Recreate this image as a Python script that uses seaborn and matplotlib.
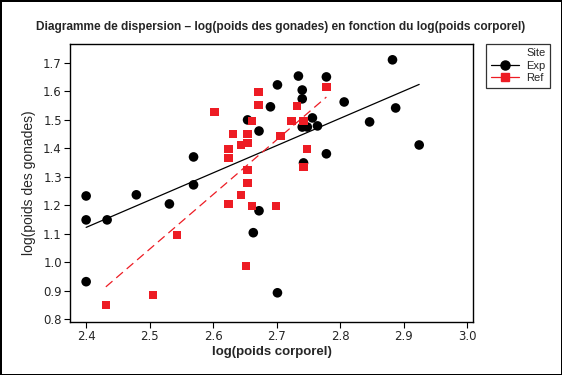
import matplotlib
matplotlib.use("Agg")
import matplotlib.pyplot as plt
from matplotlib.lines import Line2D
import pandas as pd
import seaborn as sns

# Site "Exp"
exp_x = [2.400, 2.400, 2.400, 2.433, 2.479, 2.531, 2.569, 2.569, 2.654, 2.672,
         2.663, 2.672, 2.701, 2.701, 2.690, 2.734, 2.740, 2.740, 2.756, 2.740,
         2.748, 2.764, 2.778, 2.778, 2.742, 2.806, 2.846, 2.882, 2.887, 2.924]
exp_y = [1.233, 1.149, 0.932, 1.149, 1.237, 1.205, 1.370, 1.272, 1.500, 1.461,
         1.104, 1.181, 0.893, 1.623, 1.546, 1.654, 1.605, 1.574, 1.507, 1.475,
         1.475, 1.479, 1.381, 1.651, 1.349, 1.563, 1.493, 1.711, 1.542, 1.412]

# Site "Ref"
ref_x = [2.431, 2.505, 2.543, 2.602, 2.624, 2.624, 2.631, 2.624, 2.644, 2.654,
         2.654, 2.654, 2.654, 2.644, 2.652, 2.661, 2.661, 2.671, 2.671, 2.699,
         2.706, 2.723, 2.732, 2.742, 2.742, 2.748, 2.778]
ref_y = [0.851, 0.886, 1.096, 1.528, 1.398, 1.367, 1.451, 1.205, 1.412, 1.419,
         1.451, 1.325, 1.279, 1.237, 0.988, 1.198, 1.496, 1.598, 1.553, 1.198,
         1.444, 1.496, 1.549, 1.496, 1.335, 1.398, 1.616]

x_ticks = [2.4, 2.5, 2.6, 2.7, 2.8, 2.9, 3.0]
y_ticks = [0.8, 0.9, 1.0, 1.1, 1.2, 1.3, 1.4, 1.5, 1.6, 1.7]

df = pd.DataFrame({
    "x": exp_x + ref_x,
    "y": exp_y + ref_y,
    "Site": ["Exp"] * len(exp_x) + ["Ref"] * len(ref_x),
})

sns.set_theme(style="white")
plt.rcParams["font.family"] = ["Liberation Sans", "DejaVu Sans"]

red = "#ED1C24"
fig = plt.figure(figsize=(5.62, 3.75), dpi=100)
ax = fig.add_axes([0.125, 0.141, 0.717, 0.742])

# regression lines per site
sns.regplot(data=df[df.Site == "Exp"], x="x", y="y", scatter=False, ci=None,
            ax=ax, line_kws=dict(color="black", lw=0.9))
sns.regplot(data=df[df.Site == "Ref"], x="x", y="y", scatter=False, ci=None,
            ax=ax, line_kws=dict(color=red, lw=0.9, ls=(0, (7, 4))))

sns.scatterplot(data=df[df.Site == "Exp"], x="x", y="y", color="black",
                marker="o", s=48, edgecolor="none", ax=ax, legend=False)
sns.scatterplot(data=df[df.Site == "Ref"], x="x", y="y", color=red,
                marker="s", s=36, edgecolor="none", ax=ax, legend=False)

ax.set_xlim(2.375, 3.009)
ax.set_ylim(0.79, 1.767)
ax.set_xticks(x_ticks)
ax.set_yticks(y_ticks)
ax.set_xticklabels([f"{v:.1f}" for v in x_ticks], family="DejaVu Sans", fontsize=8.5)
ax.set_yticklabels([f"{v:.1f}" for v in y_ticks], family="DejaVu Sans", fontsize=8.5)
ax.tick_params(direction="out", length=4, width=0.8, color="black", pad=2,
               bottom=True, left=True)
for sp in ax.spines.values():
    sp.set_color("black")
    sp.set_linewidth(1.0)

ax.set_xlabel("log(poids corporel)", fontsize=9.5, fontweight="bold", labelpad=2)
ax.set_ylabel("log(poids des gonades)", fontsize=10, labelpad=5)

fig.text(0.5, 0.928, "Diagramme de dispersion \u2013 log(poids des gonades) en fonction du log(poids corporel)",
         ha="center", va="center", fontsize=8.6, fontweight="bold")

handles = [
    Line2D([], [], color="black", marker="o", markersize=6.5, lw=0.9),
    Line2D([], [], color=red, marker="s", markersize=5.5, lw=0.9),
]
leg = fig.legend(handles, ["Exp", "Ref"], title="Site", loc="upper left",
                 bbox_to_anchor=(0.864, 0.884), borderaxespad=0,
                 fontsize=8, title_fontsize=8,
                 frameon=True, fancybox=False, handlelength=2.6,
                 borderpad=0.45, labelspacing=0.2, handletextpad=0.6,
                 alignment="right")
leg.get_frame().set_edgecolor("black")
leg.get_frame().set_linewidth(0.9)

fig.patch.set_edgecolor("black")
fig.patch.set_linewidth(2)

fig.savefig("out.png", dpi=100, edgecolor=fig.get_edgecolor())
